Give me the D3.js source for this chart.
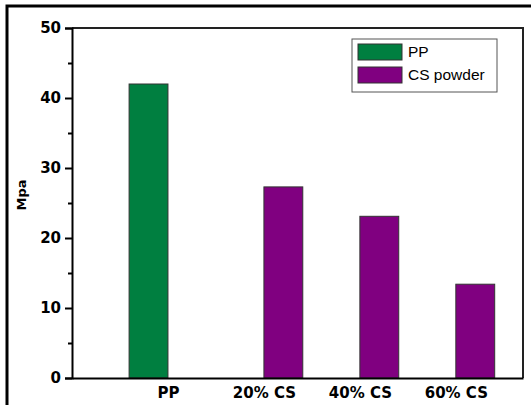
<!DOCTYPE html>
<html>
<head>
<meta charset="utf-8">
<script src="https://cdn.jsdelivr.net/npm/d3@7"></script>
<style>
  html, body { margin: 0; padding: 0; background: #fff; }
  svg { display: block; }
</style>
</head>
<body>
<svg id="chart" width="531" height="405"></svg>
<script>
// Tensile strength of PP and PP filled with CS powder
const categories = ["PP", "20% CS", "40% CS", "60% CS"];
const seriesNames = ["PP", "CS powder"];
const ppValues = [42, null, null, null];
const csValues = [null, 27.3, 23.1, 13.4];
const yTicks = [0, 10, 20, 30, 40, 50];
const yMinorTicks = [5, 15, 25, 35, 45];
const yLabel = "Mpa";

const colors = { "PP": "#007f40", "CS powder": "#800080" };
const axisFont = "'DejaVu Sans', Verdana, sans-serif";
const legendFont = "Arial, 'Liberation Sans', sans-serif";

const svg = d3.select("#chart");

// outer frame
svg.append("rect")
  .attr("x", 7).attr("y", 6)
  .attr("width", 540).attr("height", 420)
  .attr("fill", "none").attr("stroke", "#000").attr("stroke-width", 3);

const plotLeft = 72, plotRight = 523, plotTop = 28, plotBottom = 378;

// category i sits at position i + 1 on the x scale
const x = d3.scaleLinear().domain([0, 4.7]).range([plotLeft, plotRight]);
const y = d3.scaleLinear().domain([0, 50]).range([plotBottom, plotTop]);
const barHalf = 0.405; // bar width in category units

// plot box (top and right edges)
svg.append("path")
  .attr("d", `M${plotLeft},${plotTop}H${plotRight}V${plotBottom}`)
  .attr("fill", "none").attr("stroke", "#222").attr("stroke-width", 2);

// bars
const bars = [];
categories.forEach((c, i) => {
  if (ppValues[i] != null) bars.push({ s: "PP", x0: i + 1 - barHalf, x1: i + 1, v: ppValues[i] });
  if (csValues[i] != null) bars.push({ s: "CS powder", x0: i + 1, x1: i + 1 + barHalf, v: csValues[i] });
});

svg.append("g").selectAll("rect")
  .data(bars)
  .join("rect")
  .attr("x", d => x(d.x0))
  .attr("width", d => x(d.x1) - x(d.x0))
  .attr("y", d => y(d.v))
  .attr("height", d => y(0) - y(d.v))
  .attr("fill", d => colors[d.s])
  .attr("stroke", "#333")
  .attr("stroke-width", 1);

// y axis
const yAxis = d3.axisLeft(y).tickValues(yTicks).tickFormat(d3.format("d")).tickSize(7).tickPadding(4);
const gy = svg.append("g").attr("transform", `translate(${plotLeft},0)`).call(yAxis);
gy.select(".domain").attr("stroke", "#000").attr("stroke-width", 2);
gy.selectAll(".tick line").attr("stroke", "#000").attr("stroke-width", 2);
gy.selectAll(".tick text")
  .attr("fill", "#000")
  .style("font-size", "15px").style("font-weight", "bold")
  .style("font-family", axisFont);

const yAxisMinor = d3.axisLeft(y).tickValues(yMinorTicks).tickFormat("").tickSize(4);
const gym = svg.append("g").attr("transform", `translate(${plotLeft},0)`).call(yAxisMinor);
gym.select(".domain").remove();
gym.selectAll(".tick line").attr("stroke", "#000").attr("stroke-width", 2);

// x axis: labels only, no tick marks
const xAxis = d3.axisBottom(x).tickValues(categories.map((c, i) => i + 1))
  .tickFormat((d, i) => categories[i]).tickSize(0).tickPadding(9);
const gx = svg.append("g").attr("transform", `translate(0,${plotBottom})`).call(xAxis);
gx.select(".domain").attr("stroke", "#000").attr("stroke-width", 2);
gx.selectAll(".tick text")
  .attr("fill", "#000")
  .style("font-size", "15px").style("font-weight", "bold")
  .style("font-family", axisFont);

// y axis title
svg.append("text")
  .attr("transform", `translate(26,195) rotate(-90)`)
  .attr("text-anchor", "middle")
  .style("font-size", "13px").style("font-weight", "bold")
  .style("font-family", axisFont)
  .text(yLabel);

// legend
const lg = svg.append("g").attr("transform", "translate(352,39)");
lg.append("rect").attr("width", 145).attr("height", 53)
  .attr("fill", "#fff").attr("stroke", "#555").attr("stroke-width", 1);
seriesNames.forEach((s, i) => {
  lg.append("rect")
    .attr("x", 6).attr("y", 5 + i * 23)
    .attr("width", 44).attr("height", 16)
    .attr("fill", colors[s]).attr("stroke", "#333").attr("stroke-width", 1);
  lg.append("text")
    .attr("x", 56).attr("y", 18 + i * 23)
    .style("font-size", "15.5px")
    .style("font-family", legendFont)
    .text(s);
});
</script>
</body>
</html>
